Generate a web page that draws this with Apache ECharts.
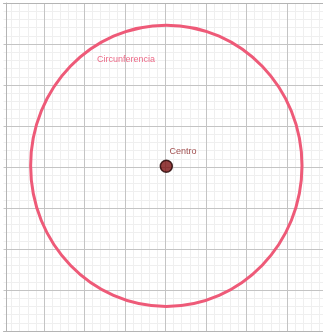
<!DOCTYPE html>
<html>
<head>
<meta charset="utf-8">
<script src="https://cdn.jsdelivr.net/npm/echarts@6/dist/echarts.min.js"></script>
<style>
  html, body { margin: 0; padding: 0; background: #fff; }
  #chart { width: 323px; height: 334px; }
</style>
</head>
<body>
<div id="chart"></div>
<script>
// values in grid units (one major square = 1)
const xRange = [-4, 4];
const yRange = [-4, 4];
const circleCenter = [0.02, 0.03];
const circleRadius = [3.35, 3.43]; // x, y (picture is slightly stretched)
const centerPoint = [0.02, 0.02];
const circleLabel = { text: "Circunferencia", at: [-1.69, 2.61] };
const centerLabel = "Centro";

const pink = "#ee5a78";
const majorColor = "#c4c4c4";
const minorColor = "#efefef";
const borderColor = "#b4b4b4";

const chart = echarts.init(document.getElementById("chart"));

// bare value axis, nothing shown unless turned on
const baseAxis = (min, max, z) => ({
  type: "value",
  min,
  max,
  interval: 1,
  z,
  axisLabel: { show: false },
  axisTick: { show: false },
  axisLine: { show: false },
  splitLine: { show: false },
});

// major lines + border
const majorAxis = (min, max) => ({
  ...baseAxis(min, max, 2),
  axisLine: { show: true, onZero: false, lineStyle: { color: borderColor } },
  splitLine: { show: true, showMinLine: false, lineStyle: { color: majorColor, width: 1 } },
});

// minor lines only, drawn underneath
const minorAxis = (min, max) => ({
  ...baseAxis(min, max, 0),
  minorTick: { show: false, splitNumber: 5 },
  minorSplitLine: { show: true, lineStyle: { color: minorColor, width: 1 } },
});

chart.setOption({
  animation: false,
  backgroundColor: "#fff",
  // plot is wider than the window: the right part is cut off like in the picture
  grid: { left: 3.5, width: 324, top: 3, height: 328, outerBoundsMode: "none", containLabel: false },
  xAxis: [
    majorAxis(xRange[0], xRange[1]),
    {
      ...baseAxis(xRange[0], xRange[1], 2),
      position: "top",
      axisLine: { show: true, onZero: false, lineStyle: { color: borderColor } },
    },
    minorAxis(xRange[0], xRange[1]),
  ],
  yAxis: [
    { ...majorAxis(yRange[0], yRange[1]), offset: -2.5 },
    minorAxis(yRange[0], yRange[1]),
  ],
  series: [
    {
      type: "custom",
      clip: false,
      data: [[circleCenter[0], circleCenter[1], circleRadius[0], circleRadius[1]]],
      renderItem: (params, api) => {
        const c = api.coord([api.value(0), api.value(1)]);
        const s = api.size([api.value(2), api.value(3)]);
        return {
          type: "ellipse",
          shape: { cx: c[0], cy: c[1], rx: s[0], ry: s[1] },
          style: { fill: null, stroke: pink, lineWidth: 3 },
        };
      },
      z: 3,
    },
    {
      type: "scatter",
      data: [circleLabel.at],
      symbolSize: 0,
      label: {
        show: true,
        position: [0, 0],
        align: "left",
        verticalAlign: "middle",
        formatter: circleLabel.text,
        color: "#e8456a",
        fontSize: 9,
        fontFamily: "Liberation Sans",
      },
      z: 4,
    },
    {
      type: "scatter",
      data: [centerPoint],
      symbol: "circle",
      symbolSize: 12,
      itemStyle: { color: "#7a1010", borderColor: "#220000", borderWidth: 1.5 },
      label: {
        show: true,
        position: [10, -7.5],
        align: "left",
        verticalAlign: "middle",
        formatter: centerLabel,
        color: "#8a2323",
        fontSize: 9,
        fontFamily: "Liberation Sans",
      },
      z: 5,
    },
  ],
});
</script>
</body>
</html>
